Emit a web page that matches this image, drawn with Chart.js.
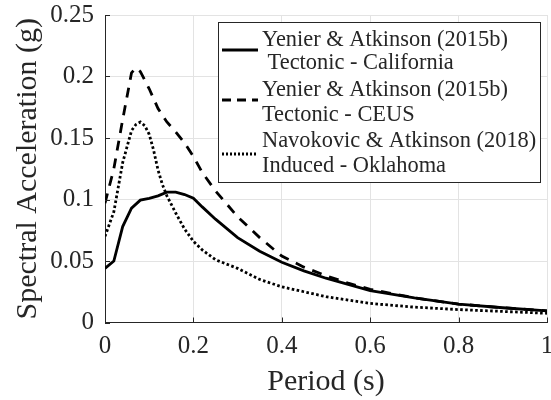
<!DOCTYPE html>
<html>
<head>
<meta charset="utf-8">
<script src="https://cdn.jsdelivr.net/npm/chart.js@4/dist/chart.umd.min.js"></script>
<style>
html,body{margin:0;padding:0;background:#fff;}
#c{display:block;}
</style>
</head>
<body>
<canvas id="c" width="551" height="400"></canvas>
<script>
// ---- data ----
const periodsCA = [0, 0.02, 0.04, 0.06, 0.08, 0.1, 0.12, 0.14, 0.16, 0.18, 0.2, 0.22, 0.25, 0.3, 0.35, 0.4, 0.45, 0.5, 0.55, 0.6, 0.7, 0.8, 0.9, 1.0];
const saCA      = [0.044, 0.050, 0.078, 0.093, 0.0995, 0.101, 0.103, 0.106, 0.106, 0.104, 0.101, 0.094, 0.084, 0.069, 0.058, 0.049, 0.042, 0.036, 0.031, 0.026, 0.020, 0.015, 0.012, 0.0095];

const periodsCEUS = [0, 0.02, 0.04, 0.06, 0.07, 0.08, 0.1, 0.12, 0.14, 0.16, 0.18, 0.2, 0.22, 0.25, 0.3, 0.35, 0.4, 0.45, 0.5, 0.55, 0.6, 0.7, 0.8, 0.9, 1.0];
const saCEUS      = [0.097, 0.125, 0.165, 0.203, 0.207, 0.204, 0.190, 0.174, 0.163, 0.155, 0.146, 0.135, 0.122, 0.107, 0.086, 0.069, 0.054, 0.045, 0.038, 0.032, 0.027, 0.020, 0.015, 0.012, 0.0095];

const periodsOK = [0, 0.02, 0.04, 0.06, 0.07, 0.08, 0.09, 0.1, 0.11, 0.12, 0.13, 0.14, 0.16, 0.18, 0.2, 0.22, 0.25, 0.3, 0.35, 0.4, 0.45, 0.5, 0.6, 0.7, 0.8, 0.9, 1.0];
const saOK      = [0.070, 0.090, 0.130, 0.156, 0.161, 0.163, 0.160, 0.153, 0.140, 0.124, 0.112, 0.103, 0.089, 0.076, 0.066, 0.059, 0.051, 0.044, 0.035, 0.029, 0.025, 0.021, 0.0155, 0.0125, 0.0105, 0.009, 0.0075];

const xTicks = [0, 0.2, 0.4, 0.6, 0.8, 1];
const xTickLabels = ["0", "0.2", "0.4", "0.6", "0.8", "1"];
const yTicks = [0, 0.05, 0.1, 0.15, 0.2, 0.25];
const yTickLabels = ["0", "0.05", "0.1", "0.15", "0.2", "0.25"];

const seriesNames = [
  ["Yenier & Atkinson (2015b)", " Tectonic - California"],
  ["Yenier & Atkinson (2015b)", "Tectonic - CEUS"],
  ["Navokovic & Atkinson (2018)", "Induced - Oklahoma"]
];
const xTitle = "Period (s)";
const yTitle = "Spectral Acceleration (g)";

// ---- build ----
const FONT = "'Liberation Serif', 'Times New Roman', serif";
const TXT = '#262626';
const toPts = (xs, ys) => xs.map((x, i) => ({x: x, y: ys[i]}));
const dashes = [[], [10, 8], [2.6, 2.4]];

const datasets = [
  {label: seriesNames[0].join(' '), data: toPts(periodsCA, saCA), borderDash: dashes[0]},
  {label: seriesNames[1].join(' '), data: toPts(periodsCEUS, saCEUS), borderDash: dashes[1]},
  {label: seriesNames[2].join(' '), data: toPts(periodsOK, saOK), borderDash: dashes[2]}
].map(d => Object.assign(d, {
  showLine: true, borderColor: '#000', backgroundColor: '#000',
  borderWidth: 2.8, pointRadius: 0, tension: 0, fill: false
}));

const inwardTicks = {
  id: 'inwardTicks',
  afterDatasetsDraw(chart) {
    const ctx = chart.ctx, xs = chart.scales.x, ys = chart.scales.y, a = chart.chartArea;
    ctx.save();
    ctx.strokeStyle = TXT; ctx.lineWidth = 1;
    xTicks.forEach(v => { const px = Math.round(xs.getPixelForValue(v)) + 0.5;
      ctx.beginPath(); ctx.moveTo(px, a.bottom); ctx.lineTo(px, a.bottom - 5); ctx.stroke(); });
    yTicks.forEach(v => { const py = Math.round(ys.getPixelForValue(v)) + 0.5;
      ctx.beginPath(); ctx.moveTo(a.left, py); ctx.lineTo(a.left + 5, py); ctx.stroke(); });
    ctx.restore();
  }
};

const boxLegend = {
  id: 'boxLegend',
  afterDraw(chart) {
    const ctx = chart.ctx;
    const L = 218.5, T = 22.5, R = 540.5, B = 182.5;
    ctx.save();
    ctx.fillStyle = '#fff';
    ctx.fillRect(L, T, R - L, B - T);
    ctx.strokeStyle = TXT; ctx.lineWidth = 1;
    ctx.strokeRect(L, T, R - L, B - T);
    ctx.font = "22.4px " + FONT;
    ctx.fillStyle = TXT;
    ctx.textBaseline = 'middle';
    ctx.textAlign = 'left';
    const rows = [[40, 63], [90, 115], [141, 166]];
    const sampleY = [50, 100, 154];
    seriesNames.forEach((names, i) => {
      ctx.beginPath();
      ctx.strokeStyle = '#000';
      ctx.lineWidth = 3;
      ctx.setLineDash(i === 1 ? [9, 6] : (i === 2 ? [2, 2] : []));
      ctx.moveTo(222, sampleY[i]); ctx.lineTo(258, sampleY[i]);
      ctx.stroke();
      ctx.setLineDash([]);
      ctx.fillText(names[0], 262, rows[i][0]);
      ctx.fillText(names[1], 262, rows[i][1]);
    });
    ctx.restore();
  }
};

new Chart(document.getElementById('c'), {
  type: 'scatter',
  data: {datasets},
  options: {
    responsive: false,
    animation: false,
    layout: {padding: {top: 15, right: 4, left: 0, bottom: 0}},
    plugins: {legend: {display: false}, tooltip: {enabled: false}},
    scales: {
      x: {
        type: 'linear', min: 0, max: 1,
        afterFit: s => { s.height = 77.5; s.paddingLeft = 0; s.paddingRight = 0; },
        afterBuildTicks: s => { s.ticks = xTicks.map(v => ({value: v})); },
        ticks: {
          callback: (v) => xTickLabels[xTicks.indexOf(v)] ?? '',
          color: TXT, font: {family: FONT, size: 25}, padding: 9, maxRotation: 0
        },
        grid: {color: '#e3e3e3', drawTicks: false},
        border: {color: TXT, width: 1},
        title: {display: true, text: xTitle, color: TXT, font: {family: FONT, size: 30}, padding: {top: 0, bottom: 0}}
      },
      y: {
        type: 'linear', min: 0, max: 0.25,
        afterFit: s => { s.width = 105; s.paddingTop = 0; s.paddingBottom = 0; },
        afterBuildTicks: s => { s.ticks = yTicks.map(v => ({value: v})); },
        ticks: {
          callback: (v) => { const i = yTicks.findIndex(t => Math.abs(t - v) < 1e-9); return i >= 0 ? yTickLabels[i] : ''; },
          color: TXT, font: {family: FONT, size: 25}, padding: 11
        },
        grid: {color: '#e3e3e3', drawTicks: false},
        border: {color: TXT, width: 1},
        title: {display: true, text: yTitle, color: TXT, font: {family: FONT, size: 30}, padding: {top: 10, bottom: 0}}
      }
    }
  },
  plugins: [inwardTicks, boxLegend]
});
</script>
</body>
</html>
